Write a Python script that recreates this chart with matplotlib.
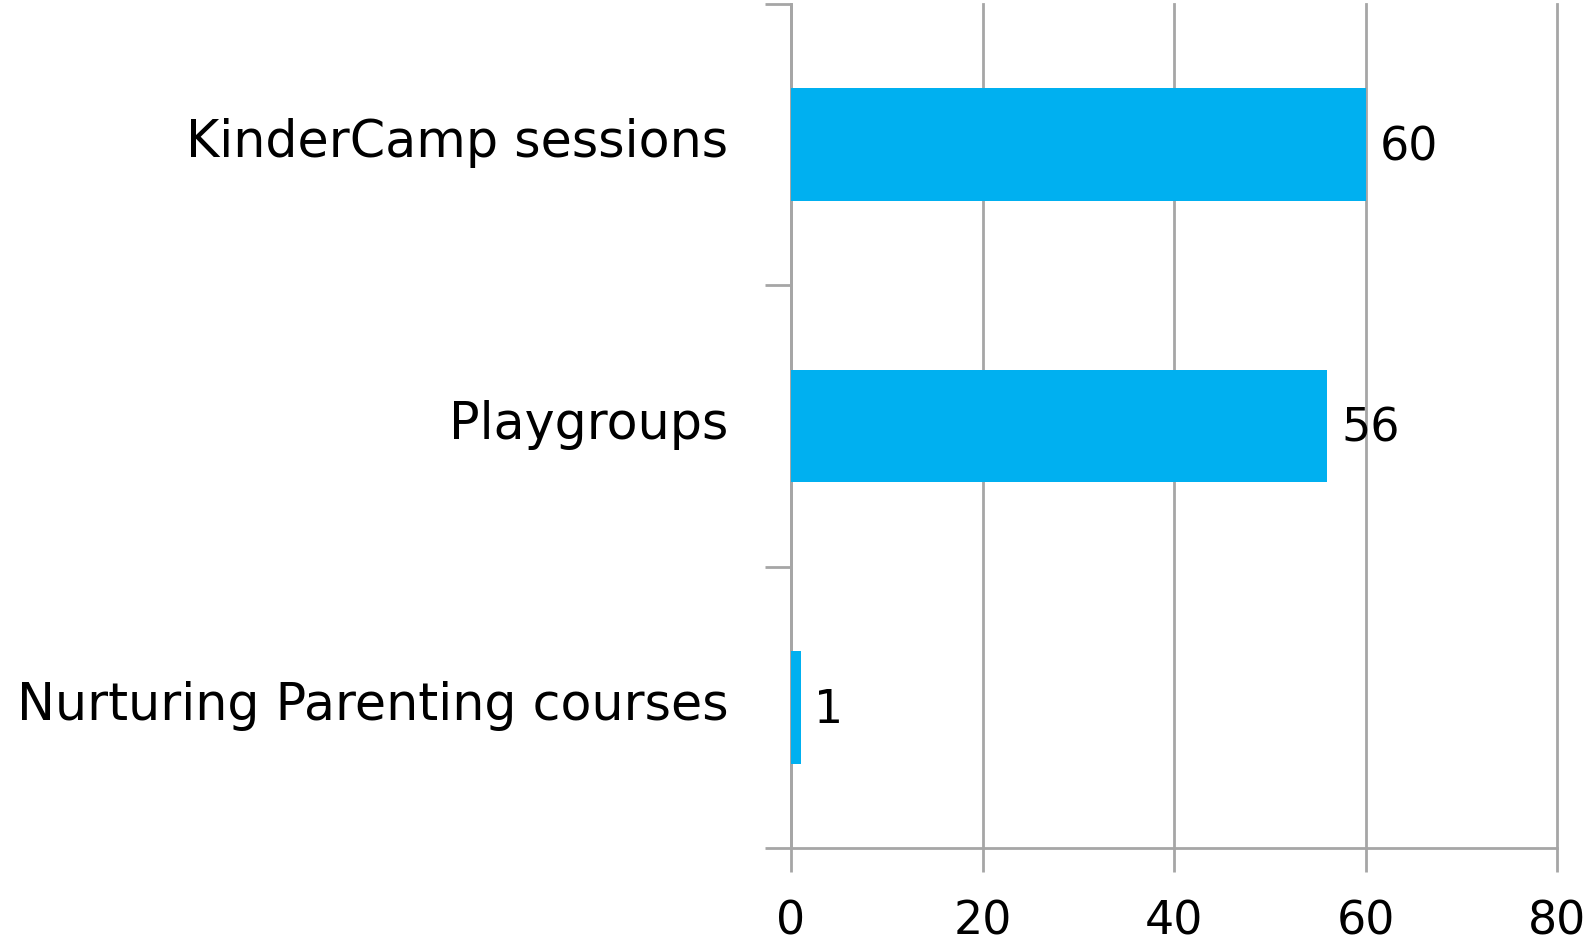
import matplotlib.pyplot as plt
from matplotlib.ticker import FixedLocator
from matplotlib.transforms import ScaledTranslation

# data
categories = ['KinderCamp sessions', 'Playgroups', 'Nurturing Parenting courses']
values = [60, 56, 1]
x_ticks = [0, 20, 40, 60, 80]

fig = plt.figure(figsize=(15.89, 9.47), dpi=100)
ax = fig.add_axes([0.4978, 0.1045, 0.4821, 0.8913])

pos = list(range(len(categories)))[::-1]
ax.barh(pos, values, height=0.4, color='#00B0F0', zorder=3)

for p, v in zip(pos, values):
    t = ax.text(v + 1.45, p, str(v), va='center', ha='left', fontsize=33, color='black')
    t.set_transform(ax.transData + ScaledTranslation(0, -3 / 100, fig.dpi_scale_trans))

grid_col = '#a6a6a6'
ax.set_xlim(0, 80)
ax.set_ylim(-0.5, len(categories) - 0.5)
ax.set_xticks(x_ticks)
ax.set_xticklabels([str(t) for t in x_ticks], fontsize=33)
ax.grid(axis='x', color=grid_col, linewidth=2, zorder=0)
for gl in ax.get_xgridlines():
    gl.set_clip_on(False)

# category labels at centers, ticks at boundaries
ax.set_yticks(pos)
ax.set_yticklabels(categories, fontsize=36.5)
ax.tick_params(axis='y', which='major', length=0, pad=45)
for lab in ax.get_yticklabels():
    lab.set_transform(lab.get_transform() + ScaledTranslation(0, 7 / 100, fig.dpi_scale_trans))
ax.yaxis.set_minor_locator(FixedLocator([-0.5, 0.5, 1.5, 2.5]))
ax.tick_params(axis='y', which='minor', length=19, width=2, color=grid_col)
ax.tick_params(axis='x', length=17, width=2, color=grid_col, pad=20)

for s in ['top', 'right']:
    ax.spines[s].set_visible(False)
for s in ['left', 'bottom']:
    ax.spines[s].set_color(grid_col)
    ax.spines[s].set_linewidth(2)

fig.savefig('out.png', dpi=100)
